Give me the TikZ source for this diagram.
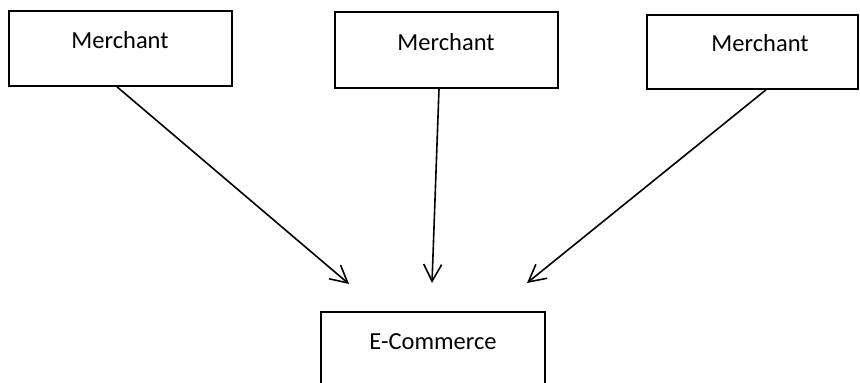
\documentclass[tikz,border=0pt]{standalone}
\usepackage{fontspec}
\setmainfont{Carlito}
\usetikzlibrary{arrows.meta}
\begin{document}
\begin{tikzpicture}[x=1pt,y=-1pt,
  box/.style={draw=black,line width=1.6pt,fill=white,inner sep=0pt},
  lbl/.style={font=\fontsize{24.5}{28}\selectfont,inner sep=0pt},
  arr/.style={line width=1.6pt,-{Straight Barb[length=17pt,width=18pt,line width=1.6pt]}}]
\useasboundingbox (0,0) rectangle (860,383);
\clip (0,0) rectangle (860,383);
\node[box,minimum width=223pt,minimum height=75pt] (m1) at (120.5,48.5) {};
\node[box,minimum width=223pt,minimum height=76pt] (m2) at (446.5,50) {};
\node[box,minimum width=211pt,minimum height=74pt] (m3) at (752.5,52) {};
\node[box,minimum width=224pt,minimum height=90pt] (ec) at (433,357) {};
\node[lbl] at (120,40) {Merchant};
\node[lbl] at (446,42) {Merchant};
\node[lbl] at (760,43) {Merchant};
\node[lbl] at (433,342) {E-Commerce};
\coordinate (t1) at (349,284);
\coordinate (t2) at (432,283);
\coordinate (t3) at (527,283);
\draw[arr] ([xshift=-3.5pt]m1.south) -- (t1);
\draw[arr] ([xshift=-7.5pt]m2.south) -- (t2);
\draw[arr] ([xshift=13.5pt]m3.south) -- (t3);
\end{tikzpicture}
\end{document}
